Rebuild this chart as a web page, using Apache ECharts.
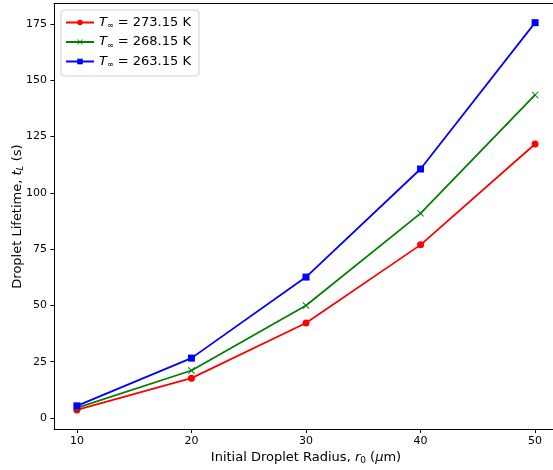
<!DOCTYPE html>
<html>
<head>
<meta charset="utf-8">
<script src="https://cdn.jsdelivr.net/npm/echarts@6/dist/echarts.min.js"></script>
<style>
  html, body { margin: 0; padding: 0; background: #fff; }
  #chart { width: 553px; height: 470px; }
</style>
</head>
<body>
<div id="chart"></div>
<script>
// Initial droplet radius (µm)
const radii = [10, 20, 30, 40, 50];
// Droplet lifetime (s) for each ambient temperature
const life273 = [3.6, 17.7, 42.2, 76.9, 121.7];
const life268 = [4.5, 21.1, 50.0, 90.9, 143.5];
const life263 = [5.4, 26.6, 62.6, 110.6, 175.6];
const tempLabels = ['273.15', '268.15', '263.15'];
const xTicks = [10, 20, 30, 40, 50];
const yTicks = [0, 25, 50, 75, 100, 125, 150, 175];

const FONT = 'DejaVu Sans';
const crossPath = 'path://M0,1 L1,0 L5,4 L9,0 L10,1 L6,5 L10,9 L9,10 L5,6 L1,10 L0,9 L4,5 Z';

function pairs(ys) { return radii.map((r, i) => [r, ys[i]]); }

const names = tempLabels.map(t => 'T∞ = ' + t + ' K');

const chart = echarts.init(document.getElementById('chart'), null, { renderer: 'canvas' });

chart.setOption({
  animation: false,
  backgroundColor: '#fff',
  textStyle: { fontFamily: FONT },
  grid: {
    left: 54, top: 3.5, width: 504, height: 426,
    outerBoundsMode: 'none', containLabel: false
  },
  legend: {
    orient: 'vertical',
    left: 61, top: 10,
    padding: [6, 8, 7, 4],
    itemGap: 5.5,
    itemWidth: 28, itemHeight: 7,
    borderColor: '#d0d0d0', borderWidth: 1, borderRadius: 3,
    backgroundColor: 'rgba(255,255,255,0.8)',
    data: names,
    formatter: function (n) {
      const t = n.replace('T∞ = ', '');
      return '{i|T}{s|∞}{n| = ' + t + '}';
    },
    textStyle: {
      fontFamily: FONT,
      rich: {
        i: { fontFamily: FONT, fontStyle: 'italic', fontSize: 13, color: '#000', height: 14 },
        s: { fontFamily: FONT, fontSize: 8, color: '#000', padding: [7, 0, 0, 0] },
        n: { fontFamily: FONT, fontSize: 13, color: '#000', height: 14 }
      }
    }
  },
  xAxis: [
    {
      type: 'value', min: 8, max: 52,
      name: '{n|Initial Droplet Radius, }{i|r}{s|0}{n| (}{i|μ}{n|m)}',
      nameLocation: 'middle', nameGap: 21, nameMoveOverlap: false,
      nameTextStyle: {
        rich: {
          n: { fontFamily: FONT, fontSize: 13, color: '#000' },
          i: { fontFamily: FONT, fontSize: 13, fontStyle: 'italic', color: '#000' },
          s: { fontFamily: FONT, fontSize: 9, color: '#000', padding: [6, 0, 0, 0] }
        }
      },
      splitLine: { show: false },
      axisLine: { show: true, onZero: false, lineStyle: { color: '#000', width: 1 } },
      axisTick: { show: true, length: 3.5, lineStyle: { color: '#000' }, customValues: xTicks },
      axisLabel: { customValues: xTicks, margin: 6, fontFamily: FONT, fontSize: 11, color: '#000' }
    },
    {
      // top frame line
      type: 'value', position: 'top', min: 8, max: 52,
      axisLine: { show: true, onZero: false, lineStyle: { color: '#000', width: 1 } },
      axisTick: { show: false }, axisLabel: { show: false }, splitLine: { show: false }
    }
  ],
  yAxis: {
    type: 'value', min: -5.1, max: 184.1,
    name: '{n|Droplet Lifetime, }{i|t}{s|L}{n| (s)}',
    nameLocation: 'middle', nameGap: 29, nameRotate: 90, nameMoveOverlap: false,
    nameTextStyle: {
      rich: {
        n: { fontFamily: FONT, fontSize: 13, color: '#000' },
        i: { fontFamily: FONT, fontSize: 13, fontStyle: 'italic', color: '#000' },
        s: { fontFamily: FONT, fontSize: 9, fontStyle: 'italic', color: '#000', padding: [6, 0, 0, 0] }
      }
    },
    splitLine: { show: false },
    axisLine: { show: true, onZero: false, lineStyle: { color: '#000', width: 1 } },
    axisTick: { show: true, length: 3.5, lineStyle: { color: '#000' }, customValues: yTicks },
    axisLabel: { customValues: yTicks, margin: 7, fontFamily: FONT, fontSize: 11, color: '#000' }
  },
  series: [
    {
      name: names[0], type: 'line', data: pairs(life273),
      symbol: 'circle', symbolSize: 7, showAllSymbol: true,
      lineStyle: { color: '#ff0000', width: 1.8 },
      itemStyle: { color: '#ff0000' }
    },
    {
      name: names[1], type: 'line', data: pairs(life268),
      symbol: crossPath, symbolSize: 7, showAllSymbol: true,
      lineStyle: { color: '#008000', width: 1.8 },
      itemStyle: { color: '#008000' }
    },
    {
      name: names[2], type: 'line', data: pairs(life263),
      symbol: 'rect', symbolSize: 7, showAllSymbol: true,
      lineStyle: { color: '#0000ff', width: 1.8 },
      itemStyle: { color: '#0000ff' }
    }
  ]
});
</script>
</body>
</html>
